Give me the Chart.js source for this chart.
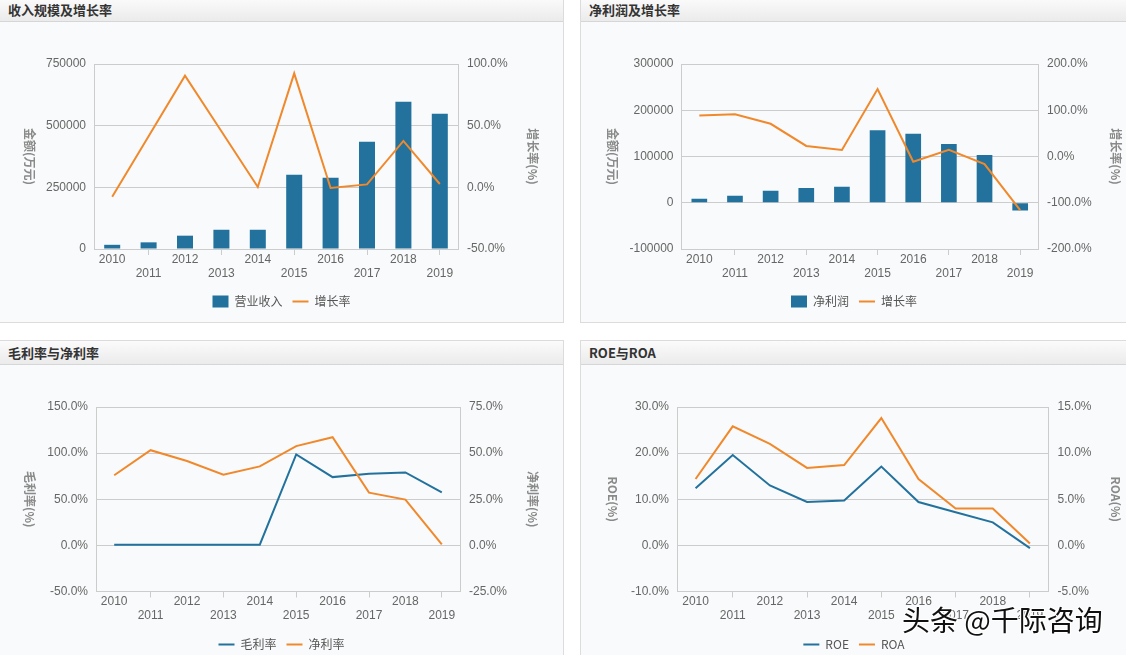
<!DOCTYPE html>
<html>
<head>
<meta charset="utf-8">
<script src="https://cdn.jsdelivr.net/npm/chart.js@4.4.1/dist/chart.umd.min.js"></script>
<style>
  body { margin: 0; width: 1126px; height: 655px; overflow: hidden; background: #fff; position: relative; font-family: "Noto Sans CJK SC", sans-serif; }
  .panel { position: absolute; border: 1px solid #dcdcdc; background: #f9fafb; }
  .head { height: 23px; line-height: 23px; padding-left: 8px; font-size: 13px; font-weight: bold; color: #333;
          background: linear-gradient(#fbfbfb, #ebebeb); border-bottom: 1px solid #d6d6d6; }
  canvas { display: block; }
  .mark { position: absolute; left: 902px; top: 603px; font-size: 28px; line-height: 32px; color: #111; white-space: nowrap;
          text-shadow: -1px -1px 0 #fff, 1px -1px 0 #fff, -1px 1px 0 #fff, 1px 1px 0 #fff, 0 0 2px #fff; }
</style>
</head>
<body>

<div class="panel" style="left:-1px;top:-3px;width:563px;">
  <div class="head">收入规模及增长率</div>
  <canvas id="c1" width="563" height="300"></canvas>
</div>
<div class="panel" style="left:580px;top:-3px;width:546px;">
  <div class="head">净利润及增长率</div>
  <canvas id="c2" width="546" height="300"></canvas>
</div>
<div class="panel" style="left:-1px;top:340px;width:563px;">
  <div class="head">毛利率与净利率</div>
  <canvas id="c3" width="563" height="300"></canvas>
</div>
<div class="panel" style="left:580px;top:340px;width:546px;">
  <div class="head">ROE与ROA</div>
  <canvas id="c4" width="546" height="300"></canvas>
</div>
<div class="mark">头条 @千际咨询</div>

<script>
// 数据
const years = ["2010", "2011", "2012", "2013", "2014", "2015", "2016", "2017", "2018", "2019"];
const revenue = [17000, 27000, 54000, 78000, 78000, 301000, 289000, 435000, 597000, 548000];
const revenueGrowth = [-7.6, 41.5, 90.5, 45.5, 0.3, 92.4, -0.5, 2.4, 37.6, 2.7];
const netProfit = [8500, 15000, 26000, 32000, 34500, 157000, 149000, 127000, 103500, -17000];
const profitGrowth = [88.6, 91.4, 70.7, 22.9, 14.3, 145.7, -11.4, 14.3, -16.4, -116];
const grossMargin = [0.8, 0.8, 0.8, 0.8, 0.8, 98.6, 74, 77.7, 79.1, 57.5];
const netMargin = [38, 51.6, 45.7, 38.3, 42.8, 53.8, 58.6, 28.6, 24.8, 0.5];
const roe = [12.4, 19.6, 13.0, 9.4, 9.75, 17.1, 9.4, 7.2, 5.0, -0.6];
const roa = [7.2, 12.9, 11.0, 8.4, 8.7, 13.8, 7.2, 4.0, 4.0, 0.2];

const blue = "#23729e";
const orange = "#f0892c";
const gridColor = "#cccccc";
const tickColor = "#666";
const tickFont = { family: "'Liberation Sans', 'Noto Sans CJK SC', sans-serif", size: 12 };

Chart.defaults.font.family = "'Noto Sans CJK SC', sans-serif";

// 竖排的坐标轴标题（顺时针旋转）
const sideTitles = {
  id: "sideTitles",
  afterDraw(chart, args, opts) {
    const { ctx, chartArea } = chart;
    const midY = (chartArea.top + chartArea.bottom) / 2;
    ctx.save();
    ctx.font = "bold 12px 'Noto Sans CJK SC'";
    ctx.fillStyle = "#8a8a8a";
    ctx.textAlign = "center";
    ctx.textBaseline = "middle";
    [[opts.left, opts.leftX], [opts.right, opts.rightX]].forEach(([text, x]) => {
      ctx.save();
      ctx.translate(x, midY);
      ctx.rotate(Math.PI / 2);
      ctx.fillText(text, 0, 0);
      ctx.restore();
    });
    ctx.restore();
  }
};

function pct(v) { return v.toFixed(1) + "%"; }

function makeChart(id, datasets, axes, box) {
  new Chart(document.getElementById(id), {
    type: "bar",
    data: { labels: years, datasets: datasets },
    plugins: [sideTitles],
    options: {
      responsive: false,
      animation: false,
      devicePixelRatio: 1,
      layout: { padding: { top: box.top, bottom: 4.5, left: 0, right: 0 } },
      plugins: {
        tooltip: { enabled: false },
        sideTitles: axes.titles,
        legend: {
          position: "bottom",
          labels: {
            usePointStyle: true,
            pointStyleWidth: 16,
            boxHeight: 12,
            padding: 10,
            color: "#555",
            font: { size: 12 },
            sort: (a, b) => a.datasetIndex - b.datasetIndex
          }
        }
      },
      scales: {
        x: {
          offset: true,
          afterFit: s => { s.height = box.xh; },
          grid: {
            offset: false,
            drawOnChartArea: false,
            drawTicks: true,
            tickLength: 6,
            color: c => (c.index % 2 ? gridColor : "rgba(0,0,0,0)")
          },
          border: { color: gridColor },
          ticks: {
            autoSkip: false,
            maxRotation: 0,
            padding: -3,
            color: tickColor,
            font: tickFont,
            callback: function (v, i) {
              const t = this.getLabelForValue(v);
              return i % 2 ? ["", t] : t;
            }
          }
        },
        y: {
          position: "left",
          min: axes.y[0], max: axes.y[1],
          afterFit: s => { s.width = box.left; },
          grid: { color: gridColor, drawTicks: false },
          border: { color: gridColor },
          ticks: { stepSize: axes.y[2], padding: 8, color: tickColor, font: tickFont, callback: axes.yFmt }
        },
        y1: {
          position: "right",
          min: axes.y1[0], max: axes.y1[1],
          afterFit: s => { s.width = box.right; },
          grid: { drawOnChartArea: false, drawTicks: false },
          border: { color: gridColor },
          ticks: { stepSize: axes.y1[2], padding: 9, color: tickColor, font: tickFont, callback: pct }
        }
      }
    }
  });
}

function barSet(label, data) {
  return { type: "bar", label: label, data: data, yAxisID: "y", order: 1,
           backgroundColor: blue, borderColor: blue, borderWidth: 0,
           barPercentage: 0.44, categoryPercentage: 1, pointStyle: "rect" };
}
function lineSet(label, data, color, axis, order) {
  return { type: "line", label: label, data: data, yAxisID: axis, order: order,
           borderColor: color, backgroundColor: color, borderWidth: 2,
           pointRadius: 0, pointHoverRadius: 0, tension: 0, pointStyle: "line" };
}

// 收入规模及增长率
makeChart("c1",
  [barSet("营业收入", revenue), lineSet("增长率", revenueGrowth, orange, "y1", 0)],
  { y: [0, 750000, 250000], y1: [-50, 100, 50], yFmt: v => String(v),
    titles: { left: "金额(万元)", leftX: 30, right: "增长率(%)", rightX: 533 } },
  { top: 42, xh: 36.5, left: 94, right: 105 });

// 净利润及增长率
makeChart("c2",
  [barSet("净利润", netProfit), lineSet("增长率", profitGrowth, orange, "y1", 0)],
  { y: [-100000, 300000, 100000], y1: [-200, 200, 100], yFmt: v => String(v),
    titles: { left: "金额(万元)", leftX: 32, right: "增长率(%)", rightX: 535 } },
  { top: 42, xh: 36.5, left: 100.5, right: 89 });

// 毛利率与净利率
makeChart("c3",
  [lineSet("毛利率", grossMargin, blue, "y", 1), lineSet("净利率", netMargin, orange, "y1", 0)],
  { y: [-50, 150, 50], y1: [-25, 75, 25], yFmt: pct,
    titles: { left: "毛利率(%)", leftX: 30, right: "净利率(%)", rightX: 533 } },
  { top: 42, xh: 37, left: 96, right: 103 });

// ROE与ROA
makeChart("c4",
  [lineSet("ROE", roe, blue, "y", 1), lineSet("ROA", roa, orange, "y1", 0)],
  { y: [-10, 30, 10], y1: [-5, 15, 5], yFmt: pct,
    titles: { left: "ROE(%)", leftX: 32, right: "ROA(%)", rightX: 535 } },
  { top: 42, xh: 37, left: 96, right: 78.5 });
</script>
</body>
</html>
